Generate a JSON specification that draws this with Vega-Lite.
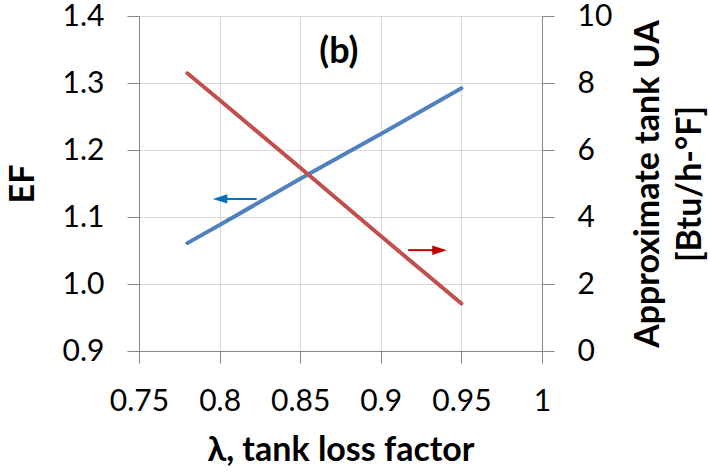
{
  "$schema": "https://vega.github.io/schema/vega-lite/v6.json",
  "width": 403,
  "height": 335,
  "autosize": {"type": "none"},
  "padding": {"left": 139, "top": 16, "right": 168, "bottom": 121},
  "background": "white",
  "config": {
    "view": {"stroke": null},
    "font": "Lato",
    "axis": {
      "domainColor": "#868686",
      "tickColor": "#868686",
      "tickSize": 12,
      "labelFont": "Lato",
      "labelFontSize": 30,
      "labelColor": "#000000",
      "titleFont": "Lato",
      "titleFontSize": 34,
      "titleFontWeight": "bold",
      "titleColor": "#000000",
      "gridColor": "#D9D9D9",
      "labelPadding": 23,
      "labelFlush": false,
      "labelBound": false,
      "labelOverlap": false
    }
  },
  "datasets": {
    "ef": [
      {"lam": 0.78, "ef": 1.061},
      {"lam": 0.80, "ef": 1.088},
      {"lam": 0.85, "ef": 1.157},
      {"lam": 0.90, "ef": 1.224},
      {"lam": 0.95, "ef": 1.292}
    ],
    "ua": [
      {"lam": 0.78, "ua": 8.29},
      {"lam": 0.80, "ua": 7.49},
      {"lam": 0.85, "ua": 5.47},
      {"lam": 0.90, "ua": 3.43},
      {"lam": 0.95, "ua": 1.42}
    ],
    "arrowLeft": [{"lam": 0.8003, "lam2": 0.823, "ef": 1.127}],
    "arrowRight": [{"lam": 0.9364, "lam2": 0.917, "ua": 3.01}],
    "label": [{"lam": 0.874, "ef": 1.347, "text": "(b)"}]
  },
  "encoding": {
    "x": {
      "field": "lam",
      "type": "quantitative",
      "scale": {"domain": [0.75, 1], "nice": false, "zero": false},
      "axis": {
        "values": [0.75, 0.8, 0.85, 0.9, 0.95, 1],
        "format": "~g",
        "grid": true,
        "title": "λ, tank loss factor",
        "titlePadding": 17
      }
    }
  },
  "layer": [
    {
      "encoding": {
        "y": {
          "field": "ef",
          "type": "quantitative",
          "scale": {"domain": [0.9, 1.4], "nice": false, "zero": false},
          "axis": {
            "orient": "left",
            "values": [0.9, 1.0, 1.1, 1.2, 1.3, 1.4],
            "format": ".1f",
            "grid": true,
            "title": "EF",
            "titlePadding": 22
          }
        }
      },
      "layer": [
        {
          "data": {"name": "ef"},
          "mark": {"type": "line", "color": "#4F81BD", "strokeWidth": 4, "strokeCap": "round"}
        },
        {
          "data": {"name": "arrowLeft"},
          "mark": {"type": "rule", "color": "#0070C0", "strokeWidth": 2},
          "encoding": {"x2": {"field": "lam2"}}
        },
        {
          "data": {"name": "arrowLeft"},
          "mark": {"type": "point", "filled": true, "color": "#0070C0", "opacity": 1, "size": 210, "shape": "M-1,0L1,-0.65L1,0.65Z", "strokeWidth": 0}
        },
        {
          "data": {"name": "label"},
          "mark": {"type": "text", "font": "Lato", "fontSize": 36, "fontWeight": "bold", "color": "#000000", "align": "center", "baseline": "middle"},
          "encoding": {"text": {"field": "text"}}
        }
      ]
    },
    {
      "encoding": {
        "y": {
          "field": "ua",
          "type": "quantitative",
          "scale": {"domain": [0, 10], "nice": false, "zero": true},
          "axis": {
            "orient": "right",
            "values": [0, 2, 4, 6, 8, 10],
            "format": "d",
            "grid": false,
            "title": ["Approximate tank UA", "[Btu/h-°F]"],
            "titleAngle": 270,
            "titleBaseline": "top",
            "titleLineHeight": 42,
            "titlePadding": -22
          }
        }
      },
      "layer": [
        {
          "data": {"name": "ua"},
          "mark": {"type": "line", "color": "#C0504D", "strokeWidth": 4, "strokeCap": "round"}
        },
        {
          "data": {"name": "arrowRight"},
          "mark": {"type": "rule", "color": "#C00000", "strokeWidth": 2},
          "encoding": {"x2": {"field": "lam2"}}
        },
        {
          "data": {"name": "arrowRight"},
          "mark": {"type": "point", "filled": true, "color": "#C00000", "opacity": 1, "size": 210, "shape": "M1,0L-1,-0.65L-1,0.65Z", "strokeWidth": 0}
        }
      ]
    }
  ],
  "resolve": {"scale": {"y": "independent"}, "axis": {"y": "independent"}}
}
